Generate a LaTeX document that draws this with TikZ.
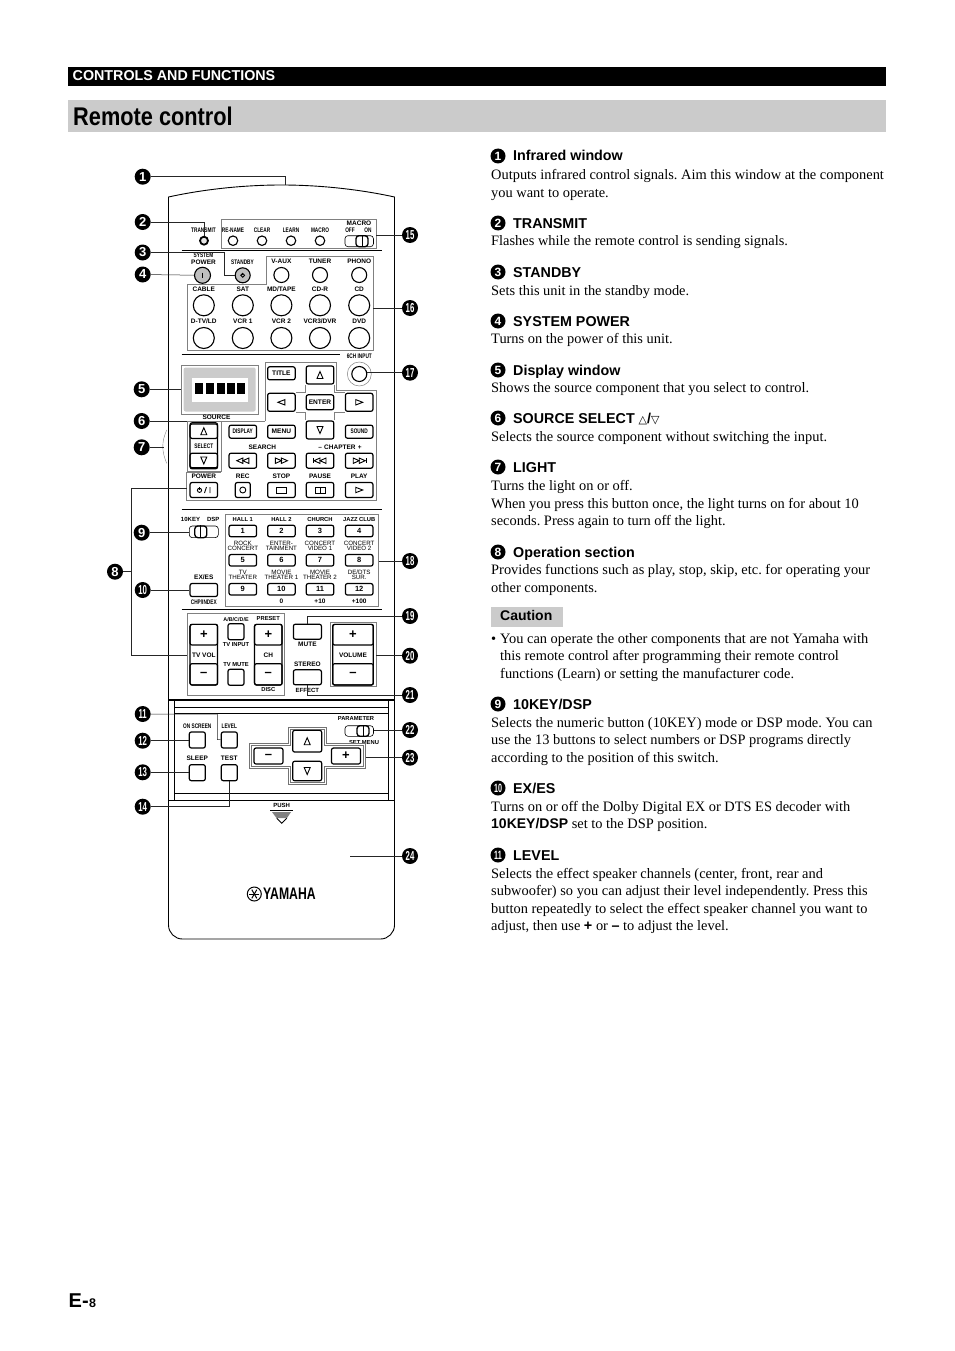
\documentclass[tikz,border=0pt]{standalone}
\usepackage{fontspec}
\setmainfont{Liberation Serif}
\setsansfont{Liberation Sans}
\newfontfamily\condfont[FakeStretch=0.85]{Liberation Sans}
\newfontfamily\narrowfont[FakeStretch=0.72]{Liberation Sans}
\newfontfamily\slimfont[FakeStretch=0.6]{Liberation Sans}
\newfontfamily\symfont{DejaVu Sans}
\usetikzlibrary{calc}
\definecolor{barGray}{HTML}{CBCBCB}
\definecolor{boxGray}{HTML}{808080}
\tikzset{
  x=1pt, y=-1pt,
  body_line/.style={line width=0.9pt, black},
  leader/.style={line width=0.5pt, black!85},
  group_box/.style={rectangle, draw=boxGray, line width=0.8pt, inner sep=0pt},
  group_line/.style={draw=boxGray, line width=0.8pt},
  sep_line/.style={line width=0.8pt, black},
  callout/.style={circle, fill=black, text=white, inner sep=0pt, minimum size=16pt, font=\fontsize{13}{13}\selectfont\sffamily\bfseries},
  callout_two/.style={callout, font=\fontsize{13}{13}\selectfont\slimfont\bfseries},
  head_callout/.style={callout, minimum size=15pt, font=\fontsize{12}{12}\selectfont\sffamily\bfseries},
  head_callout_two/.style={head_callout, font=\fontsize{12}{12}\selectfont\slimfont\bfseries},
  head_text/.style={anchor=base west, inner sep=0pt, font=\fontsize{14.3}{16}\selectfont\sffamily\bfseries},
  body_text/.style={anchor=base west, inner sep=0pt, font=\fontsize{14.4}{17}\selectfont\frenchspacing},
  key_lbl/.style={inner sep=0pt, font=\fontsize{6.5}{7}\selectfont\sffamily\bfseries},
  tiny_lbl/.style={inner sep=0pt, font=\fontsize{6.6}{7}\selectfont\narrowfont\bfseries},
  two_lbl/.style={inner sep=0pt, align=center, font=\fontsize{6.2}{5}\selectfont\sffamily},
  key/.style={rectangle, draw, rounded corners=2pt, line width=1.2pt, minimum width=27.5pt, minimum height=13pt, inner sep=0pt, font=\fontsize{6.6}{7}\selectfont\sffamily\bfseries},
  key_small/.style={key, minimum width=16pt, minimum height=16pt},
  key_num/.style={key, minimum height=11.5pt, font=\fontsize{7.5}{8}\selectfont\sffamily\bfseries},
  key_big/.style={key, minimum width=29pt, minimum height=16pt},
  key_narrow/.style={key, font=\fontsize{6.6}{7}\selectfont\narrowfont\bfseries},
  round_key/.style={circle, draw, line width=1.1pt, inner sep=0pt},
  slide_body/.style={rectangle, draw, rounded corners=3pt, line width=0.6pt, minimum width=28.5pt, minimum height=11pt, inner sep=0pt},
  slide_knob/.style={rectangle, draw, rounded corners=3pt, line width=1.3pt, minimum width=12pt, minimum height=11pt, inner sep=0pt},
  glyph/.style={line width=0.9pt, black},
  cross_line/.style={line width=0.5pt, boxGray},
  tri_up/.pic={\draw[glyph] (-3,3.5) -- (3,3.5) -- (0,-3.5) -- cycle;},
  tri_down/.pic={\draw[glyph] (-3,-3.5) -- (3,-3.5) -- (0,3.5) -- cycle;},
  tri_left/.pic={\draw[glyph] (3.5,-2.7) -- (3.5,2.7) -- (-3.5,0) -- cycle;},
  tri_right/.pic={\draw[glyph] (-3.5,-2.7) -- (-3.5,2.7) -- (3.5,0) -- cycle;},
  sym_rew/.pic={\draw[glyph] (0,-2.7) -- (0,2.7) -- (-6,0) -- cycle; \draw[glyph] (6,-2.7) -- (6,2.7) -- (0,0) -- cycle;},
  sym_ffw/.pic={\draw[glyph] (0,-2.7) -- (0,2.7) -- (6,0) -- cycle; \draw[glyph] (-6,-2.7) -- (-6,2.7) -- (0,0) -- cycle;},
  sym_prev/.pic={\pic {sym_rew}; \draw[glyph] (-7,-2.7) -- (-7,2.7);},
  sym_next/.pic={\pic {sym_ffw}; \draw[glyph] (7,-2.7) -- (7,2.7);},
  sym_pow/.pic={\draw[glyph] (0,0) circle (2.1); \draw[glyph] (0,-3) -- (0,0);}
}

\begin{document}
\begin{tikzpicture}
  \useasboundingbox (0,0) rectangle (954,1351);

  % --- Column positions ---
  \def\xA{203.8}
  \def\xB{242.8}
  \def\xC{281.4}
  \def\xD{320}
  \def\xE{359.2}

  % --- Page header ---
  \node[rectangle, fill=black, minimum width=818pt, minimum height=19pt, inner sep=0pt] (top_bar) at (477,76.5) {};
  \node[anchor=west, inner sep=0pt, text=white, font=\fontsize{14.3}{16}\selectfont\sffamily\bfseries] (top_title) at (72.5,75.7) {CONTROLS AND FUNCTIONS};
  \node[rectangle, fill=barGray, minimum width=818pt, minimum height=32pt, inner sep=0pt] (title_bar) at (477,116) {};
  \node[anchor=west, inner sep=0pt, font=\fontsize{25.6}{28}\selectfont\condfont\bfseries] (page_title) at (73,116) {Remote control};

  % --- Remote body ---
  \draw[body_line] (168.5,197) .. controls (205,189) and (245,185) .. (281.5,185) .. controls (318,185) and (358,189) .. (394.5,197)
    -- (394.5,800);
  \draw[body_line, rounded corners=14pt] (168.5,197) -- (168.5,939) -- (394.5,939) -- (394.5,790);
  \draw[line width=1.8pt] (168.5,700) -- (394.5,700);
  \draw[body_line] (168.5,800.3) -- (394.5,800.3);
  \draw[body_line] (174.7,700) -- (174.7,800) (388.3,700) -- (388.3,800);
  \draw[body_line] (174.7,707.3) -- (388.3,707.3);
  \draw[body_line] (174.7,713.3) -- (388.3,713.3);
  \draw[body_line] (174.7,793.3) -- (388.3,793.3);
  \draw[line width=0.4pt, gray] (166.7,430) .. controls (161.5,442) and (161.5,451) .. (166.7,463.3);

  % --- Separators ---
  \foreach \y in {250,509.3,609.3} {
    \draw[sep_line] (181.7,\y) -- (381.7,\y);
  }
  \draw[sep_line] (181.7,354) -- (340,354);

  % --- Top row ---
  \node[tiny_lbl] (transmit_lbl) at (203.5,230) {TRANSMIT};
  \node[round_key, line width=1.8pt, fill=black!10, minimum size=8pt] (transmit_led) at (204,240.7) {};
  \node[group_box, minimum width=155pt, minimum height=29pt] (top_box) at (298.5,233.8) {};
  \foreach \n/\x/\lbl in {rename/233/RE-NAME, clear/262/CLEAR, learn/291/LEARN, macro/320/MACRO} {
    \node[tiny_lbl] (\n_lbl) at (\x,230) {\lbl};
    \node[round_key, minimum size=9.5pt] (\n) at (\x,240.7) {};
  }
  \node[key_lbl] (macro_lbl) at (359,223.5) {MACRO};
  \node[tiny_lbl] (macro_off) at (350,230) {OFF};
  \node[tiny_lbl] (macro_on) at (368,230) {ON};
  \node[slide_body] (macro_sw) at (359.2,241.2) {};
  \node[slide_knob] (macro_knob) at (362,241.2) {};
  \draw[line width=0.7pt] (macro_knob.north) -- (macro_knob.south);

  % --- Power keys ---
  \node[tiny_lbl] (system_lbl) at (203.5,255.5) {SYSTEM};
  \node[key_lbl] (power_lbl) at (203.5,262) {POWER};
  \node[round_key, fill=black!25, minimum size=16pt] (sys_power) at (202.5,275.3) {};
  \draw[line width=1.5pt] (202.5,272.5) -- (202.5,278);
  \node[tiny_lbl] (standby_lbl) at (242.5,262) {STANDBY};
  \node[round_key, fill=black!25, minimum size=15pt] (standby) at (242.7,275.3) {};
  \pic[scale=0.9] at (standby.center) {sym_pow};

  % --- Source keys ---
  \draw[group_line] (187.3,284.3) -- (266.7,284.3) -- (266.7,256.7) -- (373.3,256.7) -- (373.3,350) -- (187.3,350) -- cycle;
  \coordinate (source_east) at (373.3,308);
  \foreach \n/\x/\lbl in {vaux/\xC/V-AUX, tuner/\xD/TUNER, phono/\xE/PHONO} {
    \node[key_lbl] (\n_lbl) at (\x,261.7) {\lbl};
    \node[round_key, minimum size=15pt] (\n) at (\x,275) {};
  }
  \foreach \n/\x/\lbl in {cable/\xA/CABLE, sat/\xB/SAT, mdtape/\xC/{MD/TAPE}, cdr/\xD/CD-R, cd/\xE/CD} {
    \node[key_lbl] (\n_lbl) at (\x,289.3) {\lbl};
    \node[round_key, minimum size=21pt] (\n) at (\x,305.3) {};
  }
  \foreach \n/\x/\lbl in {dtv/\xA/{D-TV/LD}, vcra/\xB/VCR 1, vcrb/\xC/VCR 2, vcrc/\xD/{VCR3/DVR}, dvd/\xE/DVD} {
    \node[key_lbl] (\n_lbl) at (\x,321.3) {\lbl};
    \node[round_key, minimum size=21pt] (\n) at (\x,338) {};
  }

  % --- Display window ---
  \node[group_box, minimum width=77.5pt, minimum height=49pt] (display_box) at (219.7,389.5) {};
  \node[rectangle, fill=barGray, rounded corners=2pt, minimum width=72pt, minimum height=44pt, inner sep=0pt] (display_gray) at (219.7,389.5) {};
  \node[rectangle, fill=white, minimum width=56.6pt, minimum height=23.4pt, inner sep=0pt] (display_white) at (220,390) {};
  \foreach \x in {199.2,209.8,220.5,230.8,241.2} {
    \fill[black] (\x-4,382.7) rectangle (\x+4,394);
  }

  % --- Navigation and operation group ---
  \draw[group_line] (265,421) -- (265,362.7) -- (336,362.7) -- (336,390.7) -- (376.7,390.7) -- (376.7,500) -- (186.7,500) -- (186.7,472.7) -- (220.7,472.7);
  \draw[group_line] (187.3,421) -- (265,421);
  \node[group_box, minimum width=33.4pt, minimum height=49.7pt, anchor=north west] (source_box) at (187.3,421) {};
  \node[key] (title_key) at (\xC,373.3) {TITLE};
  \node[key, minimum height=18pt] (nav_up) at (\xD,375) {};
  \node[key, minimum height=18pt] (nav_left) at (\xC,402.3) {};
  \node[key, minimum height=15pt] (nav_enter) at (\xD,402.3) {ENTER};
  \node[key, minimum height=18pt] (nav_right) at (\xE,402.3) {};
  \node[key, minimum height=18pt] (nav_down) at (\xD,430) {};
  \pic at (nav_up.center) {tri_up};
  \pic at (nav_down.center) {tri_down};
  \pic at (nav_left.center) {tri_left};
  \pic at (nav_right.center) {tri_right};
  \draw[cross_line] (nav_up.south west) |- (nav_left.north east);
  \draw[cross_line] (nav_up.south east) |- (nav_right.north west);
  \draw[cross_line] (nav_down.north west) |- (nav_left.south east);
  \draw[cross_line] (nav_down.north east) |- (nav_right.south west);
  \node[tiny_lbl] (sixch_lbl) at (359.3,356.5) {6CH INPUT};
  \node[circle, draw=boxGray, line width=0.5pt, minimum size=24pt, inner sep=0pt] (sixch_ring) at (359.3,374) {};
  \node[round_key, minimum size=15pt] (sixch) at (359.3,374) {};

  % --- Source select ---
  \node[key_lbl] (source_lbl) at (216.5,417.5) {SOURCE};
  \node[key, minimum height=46pt, minimum width=27.5pt] (select_frame) at (\xA,445.8) {};
  \node[key, minimum height=14.5pt] (select_up) at (\xA,431.2) {};
  \node[key, minimum height=14.5pt] (select_down) at (\xA,460.5) {};
  \node[tiny_lbl] (select_lbl) at (\xA,445.8) {SELECT};
  \pic at (select_up.center) {tri_up};
  \pic at (select_down.center) {tri_down};

  % --- Function keys ---
  \node[key_narrow] (display_key) at (\xB,431.7) {DISPLAY};
  \node[key] (menu_key) at (\xC,431.7) {MENU};
  \node[key_narrow] (sound_key) at (\xE,431.7) {SOUND};
  \node[key_lbl] (search_lbl) at (262.3,447.3) {SEARCH};
  \node[key_lbl] (chapter_lbl) at (340,447.3) {--\,\,CHAPTER\,\,+};
  \foreach \n/\x/\p in {search_b/\xB/sym_rew, search_f/\xC/sym_ffw, chapter_b/\xD/sym_prev, chapter_f/\xE/sym_next} {
    \node[key, minimum height=15pt] (\n) at (\x,460.7) {};
    \pic at (\n.center) {\p};
  }
  \foreach \n/\x/\lbl in {power/\xA/POWER, rec/\xB/REC, stop/\xC/STOP, pause/\xD/PAUSE, play/\xE/PLAY} {
    \node[key_lbl] (\n_lbl) at (\x,476.7) {\lbl};
  }
  \node[key, minimum height=15pt] (power_key) at (\xA,490) {};
  \pic at (199.5,490.3) {sym_pow};
  \draw[glyph] (204.5,493) -- (206.5,487) (210,487) -- (210,493);
  \node[key, minimum width=15pt, minimum height=15pt] (rec_key) at (\xB,490) {};
  \draw[glyph] (rec_key.center) circle (3);
  \node[key, minimum height=15pt] (stop_key) at (\xC,490) {};
  \draw[glyph] (\xC-5,487) rectangle (\xC+5,493);
  \node[key, minimum height=15pt] (pause_key) at (\xD,490) {};
  \draw[glyph] (\xD-5,487) rectangle (\xD,493) (\xD,487) rectangle (\xD+5,493);
  \node[key, minimum height=15pt] (play_key) at (\xE,490) {};
  \pic at (play_key.center) {tri_right};

  % --- 10KEY and EX/ES ---
  \node[key_lbl, font=\fontsize{6}{7}\selectfont\sffamily\bfseries] (tenkey_lbl) at (190.5,519) {10KEY};
  \node[key_lbl, font=\fontsize{6}{7}\selectfont\sffamily\bfseries] (dsp_lbl) at (213.3,519) {DSP};
  \node[slide_body, minimum width=29pt, minimum height=11.7pt] (tenkey_sw) at (203.8,531.8) {};
  \node[slide_knob, minimum height=11.7pt] (tenkey_knob) at (200.8,531.8) {};
  \draw[line width=0.7pt] (tenkey_knob.north) -- (tenkey_knob.south);
  \node[key_lbl] (exes_lbl) at (\xA,577.7) {EX/ES};
  \node[key] (exes_key) at (\xA,590) {};
  \node[tiny_lbl] (chp_lbl) at (\xA,601.7) {CHP/INDEX};

  % --- Number keys ---
  \node[group_box, minimum width=152.6pt, minimum height=91.7pt] (num_box) at (302,560.2) {};
  \foreach \n/\x/\lbl in {1/\xB/HALL 1, 2/\xC/HALL 2, 3/\xD/CHURCH, 4/\xE/JAZZ CLUB} {
    \node[key_lbl, font=\fontsize{5.8}{7}\selectfont\sffamily\bfseries] (num\n_lbl) at (\x,519.7) {\lbl};
    \node[key_num] (num\n) at (\x,531) {\n};
  }
  \foreach \n/\x/\lbl in {5/\xB/{ROCK\\CONCERT}, 6/\xC/{ENTER-\\TAINMENT}, 7/\xD/{CONCERT\\VIDEO 1}, 8/\xE/{CONCERT\\VIDEO 2}} {
    \node[two_lbl] (num\n_lbl) at (\x,545.7) {\lbl};
    \node[key_num] (num\n) at (\x,560.3) {\n};
  }
  \foreach \n/\x/\lbl in {9/\xB/{TV\\THEATER}, 10/\xC/{MOVIE\\THEATER 1}, 11/\xD/{MOVIE\\THEATER 2}, 12/\xE/{DE/DTS\\SUR.}} {
    \node[two_lbl] (num\n_lbl) at (\x,575) {\lbl};
    \node[key_num] (num\n) at (\x,589.3) {\n};
  }
  \foreach \n/\x/\lbl in {ten/\xC/0, eleven/\xD/+10, twelve/\xE/+100} {
    \node[key_lbl] (\n_alt) at (\x,601.7) {\lbl};
  }

  % --- TV keys ---
  \node[group_box, minimum width=97pt, minimum height=81.7pt] (tv_box) at (235.8,654.2) {};
  \foreach \n/\x/\lbl in {tvvol/\xA/TV VOL, tvch/268.3/CH} {
    \node[key, minimum height=60.7pt] (\n_frame) at (\x,654.7) {};
    \node[key, minimum height=20.7pt] (\n_plus) at (\x,634.7) {\fontsize{13}{13}\selectfont +};
    \node[key, minimum height=21.3pt] (\n_minus) at (\x,674.3) {\fontsize{13}{13}\selectfont --};
    \node[key_lbl] (\n_lbl) at (\x,655) {\lbl};
  }
  \node[key_lbl, font=\fontsize{5.4}{7}\selectfont\sffamily\bfseries] (abc_lbl) at (236,619.3) {A/B/C/D/E};
  \node[key_small] (tv_input) at (236,631.7) {};
  \node[key_lbl, font=\fontsize{5.8}{7}\selectfont\sffamily\bfseries] (tvinput_lbl) at (236,644.3) {TV INPUT};
  \node[key_lbl, font=\fontsize{5.8}{7}\selectfont\sffamily\bfseries] (tvmute_lbl) at (236,664.3) {TV MUTE};
  \node[key_small] (tv_mute) at (236,677.3) {};
  \node[key_lbl, font=\fontsize{5.8}{7}\selectfont\sffamily\bfseries] (preset_lbl) at (268.3,618.3) {PRESET};
  \node[key_lbl, font=\fontsize{5.8}{7}\selectfont\sffamily\bfseries] (disc_lbl) at (268.3,689) {DISC};

  % --- Mute and stereo ---
  \node[key, minimum width=28pt, minimum height=15pt] (mute_key) at (307.4,631.7) {};
  \node[key_lbl] (mute_lbl) at (307.4,644.3) {MUTE};
  \node[key_lbl] (stereo_lbl) at (307.4,664.3) {STEREO};
  \node[key, minimum width=28pt, minimum height=15pt] (stereo_key) at (307.4,677.3) {};
  \node[key_lbl, font=\fontsize{6}{7}\selectfont\sffamily\bfseries] (effect_lbl) at (307.4,690) {EFFECT};

  % --- Volume ---
  \node[group_box, minimum width=45.3pt, minimum height=64.4pt] (vol_box) at (353.3,654.5) {};
  \node[key, minimum width=40.6pt, minimum height=60.7pt] (vol_frame) at (353,654.7) {};
  \node[key, minimum width=40.6pt, minimum height=20.7pt] (vol_plus) at (353,634.7) {\fontsize{13}{13}\selectfont +};
  \node[key, minimum width=40.6pt, minimum height=21.3pt] (vol_minus) at (353,674.3) {\fontsize{13}{13}\selectfont --};
  \node[key_lbl] (vol_lbl) at (353,655) {VOLUME};

  % --- Lower panel ---
  \foreach \n/\x/\lbl in {onscreen/197.3/ON SCREEN, level/229.3/LEVEL} {
    \node[tiny_lbl] (\n_lbl) at (\x,726.7) {\lbl};
    \node[key_small] (\n) at (\x,740) {};
  }
  \foreach \n/\x/\lbl in {sleep/197.3/SLEEP, test/229.3/TEST} {
    \node[key_lbl] (\n_lbl) at (\x,758.3) {\lbl};
    \node[key_small] (\n) at (\x,772.7) {};
  }
  \node[key_lbl, font=\fontsize{5.8}{7}\selectfont\sffamily\bfseries] (param_lbl) at (356,718) {PARAMETER};
  \node[slide_body, minimum height=10.6pt] (param_sw) at (359.2,731) {};
  \node[slide_knob, minimum height=10.6pt] (param_knob) at (363,731) {};
  \draw[line width=0.7pt] (param_knob.north) -- (param_knob.south);
  \node[key_lbl, font=\fontsize{5.8}{7}\selectfont\sffamily\bfseries] (setmenu_lbl) at (364,742.7) {SET MENU};
  \path[fill=white] (288,727) -- (326.5,727) -- (326.5,743) -- (365.5,743) -- (365.5,768.7) -- (326.5,768.7) -- (326.5,784.7)
    -- (288,784.7) -- (288,768.7) -- (249.3,768.7) -- (249.3,743) -- (288,743) -- cycle;
  \draw[draw=black!55, line width=0.7pt]
    (288,727) -- (326.5,727) -- (326.5,743) -- (365.5,743) -- (365.5,768.7) -- (326.5,768.7) -- (326.5,784.7)
    -- (288,784.7) -- (288,768.7) -- (249.3,768.7) -- (249.3,743) -- (288,743) -- cycle;
  \draw[draw=black!55, line width=0.5pt]
    (290,729) -- (324.5,729) -- (324.5,745) -- (363.5,745) -- (363.5,766.7) -- (324.5,766.7) -- (324.5,782.7)
    -- (290,782.7) -- (290,766.7) -- (251.3,766.7) -- (251.3,745) -- (290,745) -- cycle;
  \coordinate (cross_east) at (365.7,757.7);
  \node[key_big, minimum height=21.7pt, fill=white] (cross_up) at (307.2,741.2) {};
  \node[key_big, minimum height=19.5pt, fill=white] (cross_down) at (307.2,771) {};
  \node[key_big, fill=white] (cross_minus) at (268.5,756) {\fontsize{13}{13}\selectfont --};
  \node[key_big, fill=white] (cross_plus) at (346,756) {\fontsize{13}{13}\selectfont +};
  \pic at (cross_up.center) {tri_up};
  \pic at (cross_down.center) {tri_down};

  % --- Battery cover ---
  \node[key_lbl, font=\fontsize{6}{7}\selectfont\sffamily\bfseries] (push_lbl) at (281.7,805.5) {PUSH};
  \draw[line width=0.7pt] (270,810.3) -- (293,810.3);
  \fill[gray] (272,812) -- (291,812) -- (287,818) -- (276.5,818) -- cycle;
  \draw[glyph] (276.7,818.3) -- (281.7,823.3) -- (286.7,818.3);
  \coordinate (cover_pt) at (350,856);
  \node[circle, draw, line width=1pt, minimum size=14pt, inner sep=0pt] (yamaha_mark) at (254.3,894) {};
  \foreach \a in {0,60,120} {
    \draw[line width=1pt] (yamaha_mark.center) +(\a:5) -- +(\a+180:5);
  }
  \node[anchor=west, inner sep=0pt, font=\fontsize{16.7}{18}\selectfont\condfont\bfseries] (yamaha_name) at (263,894) {\scalebox{0.86}[1]{YAMAHA}};

  % --- Callouts ---
  \foreach \n/\x/\y in {1/142.7/176.7, 2/142.7/222, 3/142.7/252.5, 4/142.7/274.5, 5/141.7/389.3, 6/141.7/421, 7/141.7/447.3, 8/115/571.7, 9/141.7/532.7} {
    \node[callout] (c\n) at (\x,\y) {\n};
  }
  \foreach \n/\x/\y in {10/142.7/590, 11/142.7/714, 12/142.7/740.7, 13/142.7/772.3, 14/142.7/806.7, 15/410/235, 16/410/308, 17/410/372.7, 18/410/561, 19/410/616, 20/410/655.7, 21/410/695, 22/410/730, 23/410/757.7, 24/410/856} {
    \node[callout_two] (c\n) at (\x,\y) {\n};
  }

  % --- Leaders ---
  \coordinate (ir_pt) at (285,185.2);
  \coordinate (stby_pt) at (224,275.3);
  \coordinate (light_pt) at (164,447.3);
  \coordinate (op_top) at (186.7,488.3);
  \coordinate (op_mid) at (131.7,571.7);
  \coordinate (op_bot) at (187.3,655);
  \coordinate (effect_pt) at (307.4,695.5);
  \coordinate (level_pt) at (217.3,739.5);
  \coordinate (test_pt) at (229.3,806.7);
  \draw[leader] (c1) -| (ir_pt);
  \draw[leader] (c2) -| (transmit_led);
  \draw[leader] (c3) -| (stby_pt) -- (standby);
  \draw[leader] (c4) -- (sys_power);
  \draw[leader] (c5) -- (c5 -| display_box.west);
  \draw[leader] (c6) -- (c6 -| source_box.west);
  \draw[leader] (c7) -- (light_pt);
  \draw[leader] (c8) -- (op_mid);
  \draw[leader] (op_top) -| (op_mid) |- (op_bot);
  \draw[leader] (c9) -- (c9 -| tenkey_sw.west);
  \draw[leader] (c10) -- (c10 -| exes_key.west);
  \draw[leader] (c11) -| (level_pt) -- (level);
  \draw[leader] (c12) -- (c12 -| onscreen.west);
  \draw[leader] (c13) -- (c13 -| sleep.west);
  \draw[leader] (c14) -- (test_pt) -- (test);
  \draw[leader] (c15) -- (c15 -| top_box.east);
  \draw[leader] (c16) -- (source_east);
  \draw[leader] (c17) -- (c17 -| sixch.east);
  \draw[leader] (c18) -- (c18 -| num_box.east);
  \draw[leader] (c19) -| (mute_key);
  \draw[leader] (c20) -- (c20 -| vol_box.east);
  \draw[leader] (c21) -- (c21 -| effect_pt) -- (stereo_key);
  \draw[leader] (c22) -- (c22 -| param_sw.east);
  \draw[leader] (c23) -- (cross_east);
  \draw[leader] (c24) -- (cover_pt);

  % --- Right column headings ---
  \foreach \n/\y/\head in {1/156/Infrared window, 2/223/TRANSMIT, 3/272/STANDBY, 4/321/SYSTEM POWER, 5/370/Display window,
      6/418/{SOURCE SELECT {\symfont\fontsize{11}{12}\selectfont\mdseries △}/{\symfont\fontsize{11}{12}\selectfont\mdseries ▽}}, 7/467/LIGHT, 8/552/Operation section, 9/704/{10KEY/DSP}} {
    \node[head_callout] (h\n) at (498,\y) {\n};
    \node[head_text] (h\n_text) at (513,\y+5) {\head};
  }
  \foreach \n/\y/\head in {10/788/{EX/ES}, 11/855/LEVEL} {
    \node[head_callout_two] (h\n) at (498,\y) {\n};
    \node[head_text] (h\n_text) at (513,\y+5) {\head};
  }

  % --- Right column text ---
  \foreach[count=\i] \y/\txt in {
      179/{Outputs infrared control signals. Aim this window at the component},
      197/{you want to operate.},
      245/{Flashes while the remote control is sending signals.},
      295/{Sets this unit in the standby mode.},
      343/{Turns on the power of this unit.},
      392/{Shows the source component that you select to control.},
      441/{Selects the source component without switching the input.},
      490/{Turns the light on or off.},
      508/{When you press this button once, the light turns on for about 10},
      525/{seconds. Press again to turn off the light.},
      574/{Provides functions such as play, stop, skip, etc. for operating your},
      592/{other components.},
      727/{Selects the numeric button (10KEY) mode or DSP mode. You can},
      744/{use the 13 buttons to select numbers or DSP programs directly},
      762/{according to the position of this switch.},
      811/{Turns on or off the Dolby Digital EX or DTS ES decoder with},
      828/{{\fontsize{14}{17}\selectfont\sffamily\bfseries 10KEY/DSP} set to the DSP position.},
      878/{Selects the effect speaker channels (center, front, rear and},
      895/{subwoofer) so you can adjust their level independently. Press this},
      913/{button repeatedly to select the effect speaker channel you want to},
      930/{adjust, then use {\sffamily\bfseries +} or {\sffamily\bfseries --} to adjust the level.}} {
    \node[body_text] (line\i) at (491,\y) {\txt};
  }

  % --- Caution ---
  \node[rectangle, fill=barGray, minimum width=72pt, minimum height=20pt, inner sep=0pt] (caution_bar) at (527,617) {};
  \node[anchor=base west, inner sep=0pt, font=\fontsize{14}{16}\selectfont\sffamily\bfseries] (caution_text) at (500,620.5) {Caution};
  \node[body_text] (bullet) at (491,643.5) {•};
  \foreach[count=\i] \y/\txt in {
      643.5/{You can operate the other components that are not Yamaha with},
      660.5/{this remote control after programming their remote control},
      678.5/{functions (Learn) or setting the manufacturer code.}} {
    \node[body_text] (bullet_line\i) at (500,\y) {\txt};
  }

  % --- Page number ---
  \node[anchor=base west, inner sep=0pt, font=\fontsize{20}{22}\selectfont\sffamily\bfseries] (page_e) at (68.5,1307) {E-};
  \node[anchor=base west, inner sep=0pt, font=\fontsize{12.5}{14}\selectfont\sffamily\bfseries] (page_n) at (page_e.base east) {8};
\end{tikzpicture}
\end{document}
